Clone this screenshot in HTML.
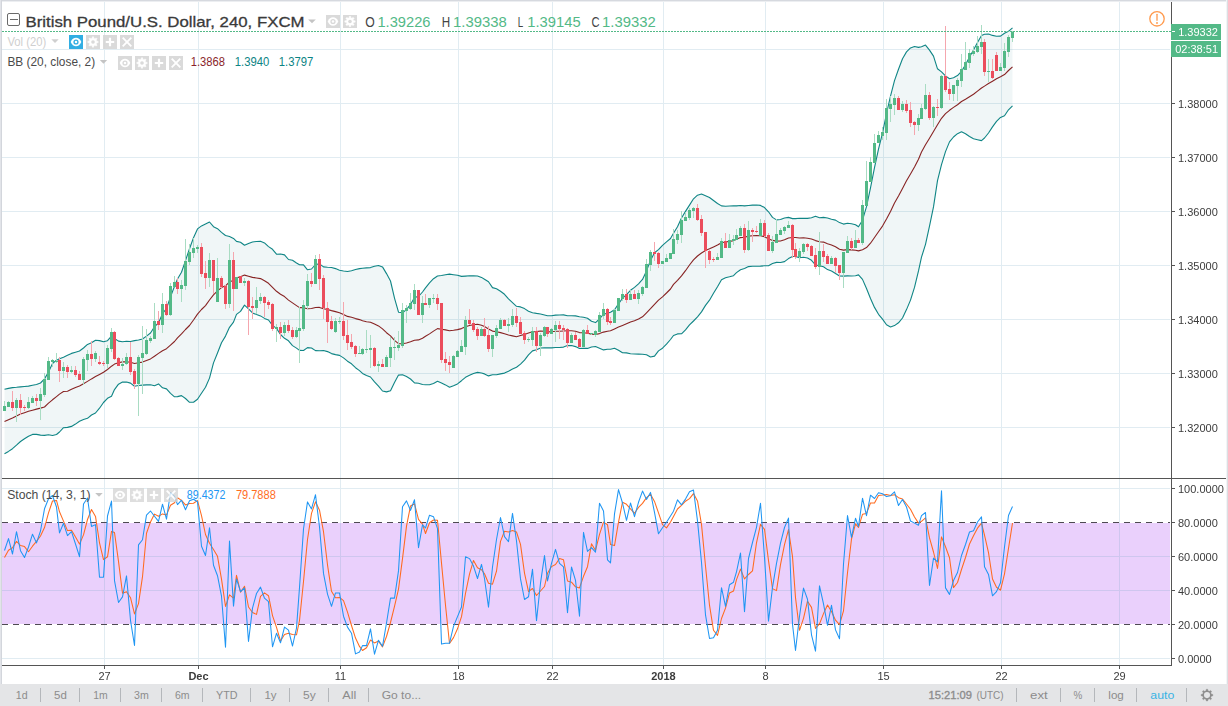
<!DOCTYPE html>
<html><head><meta charset="utf-8"><title>GBPUSD</title>
<style>html,body{margin:0;padding:0;background:#fff;overflow:hidden}body{width:1228px;height:706px;position:relative;font-family:"Liberation Sans",sans-serif}</style>
</head><body>
<svg width="1228" height="706" viewBox="0 0 1228 706" style="position:absolute;left:0;top:0">
<rect x="0" y="0" width="1228" height="706" fill="#fff"/>
<g fill="#e1ecf2" shape-rendering="crispEdges"><rect x="2" y="49" width="1168" height="1"/><rect x="2" y="103" width="1168" height="1"/><rect x="2" y="157" width="1168" height="1"/><rect x="2" y="211" width="1168" height="1"/><rect x="2" y="265" width="1168" height="1"/><rect x="2" y="319" width="1168" height="1"/><rect x="2" y="373" width="1168" height="1"/><rect x="2" y="427" width="1168" height="1"/><rect x="2" y="488" width="1168" height="1"/><rect x="2" y="556" width="1168" height="1"/><rect x="2" y="590" width="1168" height="1"/><rect x="2" y="658" width="1168" height="1"/><rect x="104" y="2" width="1" height="476"/><rect x="104" y="479" width="1" height="186"/><rect x="198" y="2" width="1" height="476"/><rect x="198" y="479" width="1" height="186"/><rect x="340" y="2" width="1" height="476"/><rect x="340" y="479" width="1" height="186"/><rect x="458" y="2" width="1" height="476"/><rect x="458" y="479" width="1" height="186"/><rect x="552" y="2" width="1" height="476"/><rect x="552" y="479" width="1" height="186"/><rect x="663" y="2" width="1" height="476"/><rect x="663" y="479" width="1" height="186"/><rect x="765" y="2" width="1" height="476"/><rect x="765" y="479" width="1" height="186"/><rect x="883" y="2" width="1" height="476"/><rect x="883" y="479" width="1" height="186"/><rect x="1001" y="2" width="1" height="476"/><rect x="1001" y="479" width="1" height="186"/><rect x="1119" y="2" width="1" height="476"/><rect x="1119" y="479" width="1" height="186"/></g>
<rect x="2" y="523" width="1168" height="101" fill="#ead0fc" shape-rendering="crispEdges"/>
<g fill="#cfc6ef" shape-rendering="crispEdges"><rect x="2" y="556" width="1168" height="1"/><rect x="2" y="590" width="1168" height="1"/><rect x="104" y="523" width="1" height="101"/><rect x="198" y="523" width="1" height="101"/><rect x="340" y="523" width="1" height="101"/><rect x="458" y="523" width="1" height="101"/><rect x="552" y="523" width="1" height="101"/><rect x="663" y="523" width="1" height="101"/><rect x="765" y="523" width="1" height="101"/><rect x="883" y="523" width="1" height="101"/><rect x="1001" y="523" width="1" height="101"/><rect x="1119" y="523" width="1" height="101"/></g>
<g stroke="#4e4a52" stroke-width="1" stroke-dasharray="6 5" shape-rendering="crispEdges"><line x1="2" y1="522.5" x2="1170" y2="522.5"/><line x1="2" y1="624.5" x2="1170" y2="624.5"/></g>
<path d="M4.5 389.2 L8.5 388.4 L12.5 387.6 L16.5 387.3 L20.5 386.9 L24.5 386.5 L28.5 386.1 L32.5 385.3 L36.5 384.5 L40.5 383.0 L44.5 378.9 L48.5 372.0 L52.5 363.5 L56.5 360.2 L59.5 358.8 L63.5 357.2 L67.5 355.3 L71.5 353.4 L75.5 352.2 L79.5 351.0 L83.5 348.0 L87.5 344.4 L91.5 342.8 L95.5 340.2 L99.5 340.6 L103.5 341.8 L107.5 340.7 L111.5 336.2 L114.5 338.5 L118.5 341.1 L122.5 341.7 L126.5 341.3 L130.5 341.5 L134.5 340.6 L138.5 340.0 L142.5 339.0 L146.5 336.1 L150.5 333.0 L154.5 326.7 L158.5 323.0 L162.5 313.6 L166.5 308.5 L170.5 296.9 L174.5 286.3 L177.5 279.0 L181.5 272.2 L185.5 260.6 L189.5 248.7 L193.5 237.8 L197.5 228.9 L201.5 225.9 L205.5 223.9 L209.5 222.0 L213.5 226.7 L217.5 228.7 L221.5 232.4 L225.5 235.5 L229.5 236.5 L233.5 238.4 L236.5 241.4 L240.5 242.2 L244.5 245.2 L248.5 243.4 L252.5 242.0 L256.5 241.5 L260.5 241.3 L264.5 242.9 L268.5 246.6 L272.5 249.3 L276.5 254.2 L280.5 254.0 L284.5 254.9 L288.5 259.5 L292.5 260.3 L296.5 263.0 L299.5 264.8 L303.5 264.9 L307.5 269.8 L311.5 269.0 L315.5 264.5 L319.5 263.9 L323.5 266.9 L327.5 267.3 L331.5 267.5 L335.5 268.6 L339.5 270.2 L343.5 271.0 L347.5 271.5 L351.5 270.7 L355.5 269.5 L359.5 268.6 L362.5 268.3 L366.5 267.9 L370.5 267.6 L374.5 266.3 L378.5 265.5 L382.5 266.9 L386.5 273.6 L390.5 281.0 L394.5 298.1 L398.5 312.2 L402.5 312.7 L406.5 309.6 L410.5 304.4 L414.5 297.4 L418.5 296.5 L422.5 292.0 L425.5 287.9 L429.5 282.9 L433.5 278.7 L437.5 276.0 L441.5 275.5 L445.5 274.8 L449.5 274.1 L453.5 274.7 L457.5 275.3 L461.5 276.4 L465.5 276.1 L469.5 275.8 L473.5 275.9 L477.5 276.0 L481.5 277.4 L484.5 279.2 L488.5 281.8 L492.5 287.6 L496.5 288.8 L500.5 291.3 L504.5 294.3 L508.5 298.8 L512.5 302.6 L516.5 306.3 L520.5 306.9 L524.5 308.6 L528.5 311.2 L532.5 312.7 L536.5 313.4 L540.5 314.0 L544.5 315.0 L547.5 315.8 L551.5 315.8 L555.5 315.1 L559.5 315.0 L563.5 314.9 L567.5 315.8 L571.5 315.8 L575.5 315.9 L579.5 316.7 L583.5 317.2 L587.5 318.2 L591.5 321.3 L595.5 322.6 L599.5 319.0 L603.5 314.2 L607.5 313.1 L610.5 312.3 L614.5 309.7 L618.5 303.9 L622.5 298.2 L626.5 294.6 L630.5 290.3 L634.5 287.4 L638.5 283.8 L642.5 279.4 L646.5 270.9 L650.5 260.4 L654.5 252.7 L658.5 249.6 L662.5 245.3 L666.5 241.8 L670.5 238.5 L673.5 233.3 L677.5 226.8 L681.5 218.0 L685.5 211.4 L689.5 205.1 L693.5 198.8 L697.5 195.2 L701.5 194.0 L705.5 195.7 L709.5 197.5 L713.5 200.5 L717.5 203.5 L721.5 205.9 L725.5 206.3 L729.5 206.0 L733.5 205.7 L736.5 205.9 L740.5 205.5 L744.5 205.9 L748.5 205.5 L752.5 205.1 L756.5 205.0 L760.5 205.4 L764.5 207.6 L768.5 211.8 L772.5 217.4 L776.5 219.9 L780.5 219.5 L784.5 218.0 L788.5 217.4 L792.5 218.6 L795.5 218.6 L799.5 218.3 L803.5 218.4 L807.5 218.4 L811.5 217.8 L815.5 216.3 L819.5 217.7 L823.5 217.4 L827.5 218.0 L831.5 219.2 L835.5 220.1 L839.5 222.6 L843.5 224.1 L847.5 223.3 L851.5 223.8 L855.5 224.7 L858.5 226.8 L862.5 220.2 L866.5 206.7 L870.5 187.9 L874.5 167.6 L878.5 149.1 L882.5 133.1 L886.5 113.5 L890.5 96.2 L894.5 80.6 L898.5 69.3 L902.5 58.8 L906.5 51.9 L910.5 47.9 L914.5 46.5 L918.5 47.4 L921.5 46.8 L925.5 45.1 L929.5 50.1 L933.5 56.1 L937.5 68.8 L941.5 71.9 L945.5 75.9 L949.5 78.7 L953.5 77.8 L957.5 75.6 L961.5 71.4 L965.5 64.7 L969.5 56.9 L973.5 49.9 L977.5 42.6 L981.5 35.5 L984.5 34.2 L988.5 34.0 L992.5 35.4 L996.5 36.2 L1000.5 36.1 L1004.5 33.3 L1008.5 31.3 L1012.5 27.8 L1012.5 105.8 L1008.5 109.8 L1004.5 115.8 L1000.5 117.4 L996.5 121.4 L992.5 126.9 L988.5 133.0 L984.5 138.0 L981.5 140.6 L977.5 139.7 L973.5 138.8 L969.5 136.5 L965.5 133.7 L961.5 131.7 L957.5 133.7 L953.5 137.0 L949.5 141.9 L945.5 151.6 L941.5 164.6 L937.5 180.7 L933.5 206.9 L929.5 226.2 L925.5 244.3 L921.5 257.2 L918.5 270.9 L914.5 287.4 L910.5 300.1 L906.5 309.6 L902.5 318.0 L898.5 322.8 L894.5 325.6 L890.5 326.9 L886.5 324.8 L882.5 319.1 L878.5 314.3 L874.5 307.4 L870.5 298.5 L866.5 288.5 L862.5 279.4 L858.5 274.9 L855.5 275.7 L851.5 276.0 L847.5 275.9 L843.5 276.1 L839.5 276.0 L835.5 273.5 L831.5 271.0 L827.5 269.6 L823.5 266.8 L819.5 265.8 L815.5 265.0 L811.5 260.3 L807.5 258.0 L803.5 257.3 L799.5 257.8 L795.5 256.5 L792.5 256.5 L788.5 258.6 L784.5 261.6 L780.5 262.5 L776.5 262.4 L772.5 263.5 L768.5 265.7 L764.5 265.8 L760.5 266.1 L756.5 266.2 L752.5 266.3 L748.5 266.6 L744.5 268.5 L740.5 269.7 L736.5 272.6 L733.5 275.7 L729.5 276.8 L725.5 277.7 L721.5 279.7 L717.5 286.7 L713.5 293.3 L709.5 300.2 L705.5 305.4 L701.5 311.9 L697.5 316.8 L693.5 321.0 L689.5 324.9 L685.5 329.9 L681.5 333.8 L677.5 333.9 L673.5 335.5 L670.5 339.5 L666.5 344.2 L662.5 348.2 L658.5 350.9 L654.5 356.1 L650.5 357.0 L646.5 354.7 L642.5 354.2 L638.5 354.1 L634.5 354.0 L630.5 353.8 L626.5 352.9 L622.5 352.8 L618.5 350.3 L614.5 348.2 L610.5 349.2 L607.5 349.3 L603.5 349.9 L599.5 348.2 L595.5 346.5 L591.5 347.0 L587.5 348.4 L583.5 348.4 L579.5 348.5 L575.5 346.6 L571.5 345.5 L567.5 345.6 L563.5 347.1 L559.5 347.5 L555.5 347.5 L551.5 347.9 L547.5 347.9 L544.5 347.7 L540.5 348.0 L536.5 349.7 L532.5 350.9 L528.5 354.9 L524.5 360.2 L520.5 364.1 L516.5 367.3 L512.5 369.1 L508.5 371.2 L504.5 373.1 L500.5 373.9 L496.5 374.7 L492.5 374.7 L488.5 375.9 L484.5 373.9 L481.5 373.0 L477.5 372.4 L473.5 373.5 L469.5 375.3 L465.5 377.3 L461.5 380.7 L457.5 383.9 L453.5 385.8 L449.5 387.3 L445.5 384.9 L441.5 382.9 L437.5 381.3 L433.5 383.4 L429.5 384.8 L425.5 384.8 L422.5 384.5 L418.5 383.3 L414.5 382.9 L410.5 379.0 L406.5 376.5 L402.5 374.7 L398.5 375.1 L394.5 382.5 L390.5 390.8 L386.5 391.9 L382.5 391.0 L378.5 386.2 L374.5 381.9 L370.5 377.0 L366.5 375.5 L362.5 373.4 L359.5 370.6 L355.5 367.7 L351.5 363.8 L347.5 361.2 L343.5 357.9 L339.5 355.4 L335.5 354.6 L331.5 353.6 L327.5 351.6 L323.5 350.5 L319.5 350.8 L315.5 350.6 L311.5 348.0 L307.5 347.6 L303.5 350.5 L299.5 350.4 L296.5 348.1 L292.5 345.6 L288.5 340.8 L284.5 338.3 L280.5 334.5 L276.5 328.4 L272.5 325.4 L268.5 320.0 L264.5 318.4 L260.5 315.9 L256.5 314.5 L252.5 312.9 L248.5 308.9 L244.5 305.1 L240.5 311.4 L236.5 314.4 L233.5 322.1 L229.5 327.3 L225.5 336.1 L221.5 342.8 L217.5 353.0 L213.5 362.9 L209.5 378.1 L205.5 387.3 L201.5 393.2 L197.5 399.2 L193.5 402.2 L189.5 402.3 L185.5 398.5 L181.5 395.6 L177.5 396.6 L174.5 396.8 L170.5 393.3 L166.5 388.9 L162.5 387.8 L158.5 383.9 L154.5 385.7 L150.5 384.8 L146.5 384.9 L142.5 385.1 L138.5 385.5 L134.5 386.3 L130.5 383.1 L126.5 382.0 L122.5 382.1 L118.5 384.2 L114.5 389.6 L111.5 396.2 L107.5 398.3 L103.5 402.5 L99.5 408.2 L95.5 413.0 L91.5 415.0 L87.5 418.3 L83.5 419.5 L79.5 421.3 L75.5 424.1 L71.5 426.4 L67.5 427.4 L63.5 427.7 L59.5 432.0 L56.5 434.5 L52.5 435.5 L48.5 434.8 L44.5 435.4 L40.5 435.1 L36.5 434.4 L32.5 434.4 L28.5 436.2 L24.5 438.8 L20.5 441.5 L16.5 445.2 L12.5 448.7 L8.5 451.4 L4.5 453.7Z" fill="#05697a" fill-opacity="0.06"/>
<path d="M4.5 421.4 L8.5 419.7 L12.5 418.0 L16.5 416.1 L20.5 414.1 L24.5 412.7 L28.5 411.3 L32.5 410.2 L36.5 409.1 L40.5 408.1 L44.5 407.0 L48.5 403.2 L52.5 399.8 L56.5 396.6 L59.5 394.1 L63.5 391.5 L67.5 391.2 L71.5 389.2 L75.5 387.5 L79.5 386.1 L83.5 383.8 L87.5 381.4 L91.5 378.9 L95.5 376.6 L99.5 374.4 L103.5 372.2 L107.5 369.5 L111.5 366.2 L114.5 364.1 L118.5 362.7 L122.5 361.9 L126.5 361.7 L130.5 362.3 L134.5 363.5 L138.5 362.8 L142.5 362.1 L146.5 360.5 L150.5 358.9 L154.5 356.2 L158.5 353.4 L162.5 350.7 L166.5 348.7 L170.5 345.1 L174.5 341.5 L177.5 337.8 L181.5 333.9 L185.5 329.5 L189.5 325.5 L193.5 320.0 L197.5 314.1 L201.5 309.5 L205.5 305.6 L209.5 300.0 L213.5 294.8 L217.5 290.9 L221.5 287.6 L225.5 285.8 L229.5 281.9 L233.5 280.3 L236.5 277.9 L240.5 276.8 L244.5 275.1 L248.5 276.2 L252.5 277.4 L256.5 278.0 L260.5 278.6 L264.5 280.7 L268.5 283.3 L272.5 287.3 L276.5 291.3 L280.5 294.3 L284.5 296.6 L288.5 300.1 L292.5 302.9 L296.5 305.6 L299.5 307.6 L303.5 307.7 L307.5 308.7 L311.5 308.5 L315.5 307.5 L319.5 307.4 L323.5 308.7 L327.5 309.5 L331.5 310.6 L335.5 311.6 L339.5 312.8 L343.5 314.5 L347.5 316.4 L351.5 317.3 L355.5 318.6 L359.5 319.6 L362.5 320.8 L366.5 321.7 L370.5 322.3 L374.5 324.1 L378.5 325.9 L382.5 328.9 L386.5 332.7 L390.5 335.9 L394.5 340.3 L398.5 343.6 L402.5 343.7 L406.5 343.0 L410.5 341.7 L414.5 340.2 L418.5 339.9 L422.5 338.2 L425.5 336.3 L429.5 333.9 L433.5 331.1 L437.5 328.6 L441.5 329.2 L445.5 329.9 L449.5 330.7 L453.5 330.2 L457.5 329.6 L461.5 328.6 L465.5 326.7 L469.5 325.5 L473.5 324.7 L477.5 324.2 L481.5 325.2 L484.5 326.6 L488.5 328.9 L492.5 331.1 L496.5 331.8 L500.5 332.6 L504.5 333.7 L508.5 335.0 L512.5 335.9 L516.5 336.8 L520.5 335.5 L524.5 334.4 L528.5 333.1 L532.5 331.8 L536.5 331.6 L540.5 331.0 L544.5 331.4 L547.5 331.9 L551.5 331.8 L555.5 331.3 L559.5 331.3 L563.5 331.0 L567.5 330.7 L571.5 330.7 L575.5 331.2 L579.5 332.6 L583.5 332.8 L587.5 333.3 L591.5 334.1 L595.5 334.5 L599.5 333.6 L603.5 332.1 L607.5 331.2 L610.5 330.8 L614.5 329.0 L618.5 327.1 L622.5 325.5 L626.5 323.8 L630.5 322.0 L634.5 320.7 L638.5 318.9 L642.5 316.8 L646.5 312.8 L650.5 308.7 L654.5 304.4 L658.5 300.2 L662.5 296.8 L666.5 293.0 L670.5 289.0 L673.5 284.4 L677.5 280.3 L681.5 275.9 L685.5 270.7 L689.5 265.0 L693.5 259.9 L697.5 256.0 L701.5 253.0 L705.5 250.5 L709.5 248.8 L713.5 246.9 L717.5 245.1 L721.5 242.8 L725.5 242.0 L729.5 241.4 L733.5 240.7 L736.5 239.2 L740.5 237.6 L744.5 237.2 L748.5 236.1 L752.5 235.7 L756.5 235.6 L760.5 235.7 L764.5 236.7 L768.5 238.8 L772.5 240.4 L776.5 241.1 L780.5 241.0 L784.5 239.8 L788.5 238.0 L792.5 237.5 L795.5 237.5 L799.5 238.0 L803.5 237.8 L807.5 238.2 L811.5 239.0 L815.5 240.6 L819.5 241.7 L823.5 242.1 L827.5 243.8 L831.5 245.1 L835.5 246.8 L839.5 249.3 L843.5 250.1 L847.5 249.6 L851.5 249.9 L855.5 250.2 L858.5 250.9 L862.5 249.8 L866.5 247.6 L870.5 243.2 L874.5 237.5 L878.5 231.7 L882.5 226.1 L886.5 219.1 L890.5 211.6 L894.5 203.1 L898.5 196.1 L902.5 188.4 L906.5 180.8 L910.5 174.0 L914.5 166.9 L918.5 159.2 L921.5 152.0 L925.5 144.7 L929.5 138.2 L933.5 131.5 L937.5 124.7 L941.5 118.3 L945.5 113.7 L949.5 110.3 L953.5 107.4 L957.5 104.7 L961.5 101.5 L965.5 99.2 L969.5 96.7 L973.5 94.3 L977.5 91.1 L981.5 88.0 L984.5 86.1 L988.5 83.5 L992.5 81.2 L996.5 78.8 L1000.5 76.8 L1004.5 74.6 L1008.5 70.5 L1012.5 66.8" fill="none" stroke="#872323" stroke-width="1.1" stroke-linejoin="round"/>
<path d="M4.5 389.2 L8.5 388.4 L12.5 387.6 L16.5 387.3 L20.5 386.9 L24.5 386.5 L28.5 386.1 L32.5 385.3 L36.5 384.5 L40.5 383.0 L44.5 378.9 L48.5 372.0 L52.5 363.5 L56.5 360.2 L59.5 358.8 L63.5 357.2 L67.5 355.3 L71.5 353.4 L75.5 352.2 L79.5 351.0 L83.5 348.0 L87.5 344.4 L91.5 342.8 L95.5 340.2 L99.5 340.6 L103.5 341.8 L107.5 340.7 L111.5 336.2 L114.5 338.5 L118.5 341.1 L122.5 341.7 L126.5 341.3 L130.5 341.5 L134.5 340.6 L138.5 340.0 L142.5 339.0 L146.5 336.1 L150.5 333.0 L154.5 326.7 L158.5 323.0 L162.5 313.6 L166.5 308.5 L170.5 296.9 L174.5 286.3 L177.5 279.0 L181.5 272.2 L185.5 260.6 L189.5 248.7 L193.5 237.8 L197.5 228.9 L201.5 225.9 L205.5 223.9 L209.5 222.0 L213.5 226.7 L217.5 228.7 L221.5 232.4 L225.5 235.5 L229.5 236.5 L233.5 238.4 L236.5 241.4 L240.5 242.2 L244.5 245.2 L248.5 243.4 L252.5 242.0 L256.5 241.5 L260.5 241.3 L264.5 242.9 L268.5 246.6 L272.5 249.3 L276.5 254.2 L280.5 254.0 L284.5 254.9 L288.5 259.5 L292.5 260.3 L296.5 263.0 L299.5 264.8 L303.5 264.9 L307.5 269.8 L311.5 269.0 L315.5 264.5 L319.5 263.9 L323.5 266.9 L327.5 267.3 L331.5 267.5 L335.5 268.6 L339.5 270.2 L343.5 271.0 L347.5 271.5 L351.5 270.7 L355.5 269.5 L359.5 268.6 L362.5 268.3 L366.5 267.9 L370.5 267.6 L374.5 266.3 L378.5 265.5 L382.5 266.9 L386.5 273.6 L390.5 281.0 L394.5 298.1 L398.5 312.2 L402.5 312.7 L406.5 309.6 L410.5 304.4 L414.5 297.4 L418.5 296.5 L422.5 292.0 L425.5 287.9 L429.5 282.9 L433.5 278.7 L437.5 276.0 L441.5 275.5 L445.5 274.8 L449.5 274.1 L453.5 274.7 L457.5 275.3 L461.5 276.4 L465.5 276.1 L469.5 275.8 L473.5 275.9 L477.5 276.0 L481.5 277.4 L484.5 279.2 L488.5 281.8 L492.5 287.6 L496.5 288.8 L500.5 291.3 L504.5 294.3 L508.5 298.8 L512.5 302.6 L516.5 306.3 L520.5 306.9 L524.5 308.6 L528.5 311.2 L532.5 312.7 L536.5 313.4 L540.5 314.0 L544.5 315.0 L547.5 315.8 L551.5 315.8 L555.5 315.1 L559.5 315.0 L563.5 314.9 L567.5 315.8 L571.5 315.8 L575.5 315.9 L579.5 316.7 L583.5 317.2 L587.5 318.2 L591.5 321.3 L595.5 322.6 L599.5 319.0 L603.5 314.2 L607.5 313.1 L610.5 312.3 L614.5 309.7 L618.5 303.9 L622.5 298.2 L626.5 294.6 L630.5 290.3 L634.5 287.4 L638.5 283.8 L642.5 279.4 L646.5 270.9 L650.5 260.4 L654.5 252.7 L658.5 249.6 L662.5 245.3 L666.5 241.8 L670.5 238.5 L673.5 233.3 L677.5 226.8 L681.5 218.0 L685.5 211.4 L689.5 205.1 L693.5 198.8 L697.5 195.2 L701.5 194.0 L705.5 195.7 L709.5 197.5 L713.5 200.5 L717.5 203.5 L721.5 205.9 L725.5 206.3 L729.5 206.0 L733.5 205.7 L736.5 205.9 L740.5 205.5 L744.5 205.9 L748.5 205.5 L752.5 205.1 L756.5 205.0 L760.5 205.4 L764.5 207.6 L768.5 211.8 L772.5 217.4 L776.5 219.9 L780.5 219.5 L784.5 218.0 L788.5 217.4 L792.5 218.6 L795.5 218.6 L799.5 218.3 L803.5 218.4 L807.5 218.4 L811.5 217.8 L815.5 216.3 L819.5 217.7 L823.5 217.4 L827.5 218.0 L831.5 219.2 L835.5 220.1 L839.5 222.6 L843.5 224.1 L847.5 223.3 L851.5 223.8 L855.5 224.7 L858.5 226.8 L862.5 220.2 L866.5 206.7 L870.5 187.9 L874.5 167.6 L878.5 149.1 L882.5 133.1 L886.5 113.5 L890.5 96.2 L894.5 80.6 L898.5 69.3 L902.5 58.8 L906.5 51.9 L910.5 47.9 L914.5 46.5 L918.5 47.4 L921.5 46.8 L925.5 45.1 L929.5 50.1 L933.5 56.1 L937.5 68.8 L941.5 71.9 L945.5 75.9 L949.5 78.7 L953.5 77.8 L957.5 75.6 L961.5 71.4 L965.5 64.7 L969.5 56.9 L973.5 49.9 L977.5 42.6 L981.5 35.5 L984.5 34.2 L988.5 34.0 L992.5 35.4 L996.5 36.2 L1000.5 36.1 L1004.5 33.3 L1008.5 31.3 L1012.5 27.8" fill="none" stroke="#0f8585" stroke-width="1.1" stroke-linejoin="round"/>
<path d="M4.5 453.7 L8.5 451.4 L12.5 448.7 L16.5 445.2 L20.5 441.5 L24.5 438.8 L28.5 436.2 L32.5 434.4 L36.5 434.4 L40.5 435.1 L44.5 435.4 L48.5 434.8 L52.5 435.5 L56.5 434.5 L59.5 432.0 L63.5 427.7 L67.5 427.4 L71.5 426.4 L75.5 424.1 L79.5 421.3 L83.5 419.5 L87.5 418.3 L91.5 415.0 L95.5 413.0 L99.5 408.2 L103.5 402.5 L107.5 398.3 L111.5 396.2 L114.5 389.6 L118.5 384.2 L122.5 382.1 L126.5 382.0 L130.5 383.1 L134.5 386.3 L138.5 385.5 L142.5 385.1 L146.5 384.9 L150.5 384.8 L154.5 385.7 L158.5 383.9 L162.5 387.8 L166.5 388.9 L170.5 393.3 L174.5 396.8 L177.5 396.6 L181.5 395.6 L185.5 398.5 L189.5 402.3 L193.5 402.2 L197.5 399.2 L201.5 393.2 L205.5 387.3 L209.5 378.1 L213.5 362.9 L217.5 353.0 L221.5 342.8 L225.5 336.1 L229.5 327.3 L233.5 322.1 L236.5 314.4 L240.5 311.4 L244.5 305.1 L248.5 308.9 L252.5 312.9 L256.5 314.5 L260.5 315.9 L264.5 318.4 L268.5 320.0 L272.5 325.4 L276.5 328.4 L280.5 334.5 L284.5 338.3 L288.5 340.8 L292.5 345.6 L296.5 348.1 L299.5 350.4 L303.5 350.5 L307.5 347.6 L311.5 348.0 L315.5 350.6 L319.5 350.8 L323.5 350.5 L327.5 351.6 L331.5 353.6 L335.5 354.6 L339.5 355.4 L343.5 357.9 L347.5 361.2 L351.5 363.8 L355.5 367.7 L359.5 370.6 L362.5 373.4 L366.5 375.5 L370.5 377.0 L374.5 381.9 L378.5 386.2 L382.5 391.0 L386.5 391.9 L390.5 390.8 L394.5 382.5 L398.5 375.1 L402.5 374.7 L406.5 376.5 L410.5 379.0 L414.5 382.9 L418.5 383.3 L422.5 384.5 L425.5 384.8 L429.5 384.8 L433.5 383.4 L437.5 381.3 L441.5 382.9 L445.5 384.9 L449.5 387.3 L453.5 385.8 L457.5 383.9 L461.5 380.7 L465.5 377.3 L469.5 375.3 L473.5 373.5 L477.5 372.4 L481.5 373.0 L484.5 373.9 L488.5 375.9 L492.5 374.7 L496.5 374.7 L500.5 373.9 L504.5 373.1 L508.5 371.2 L512.5 369.1 L516.5 367.3 L520.5 364.1 L524.5 360.2 L528.5 354.9 L532.5 350.9 L536.5 349.7 L540.5 348.0 L544.5 347.7 L547.5 347.9 L551.5 347.9 L555.5 347.5 L559.5 347.5 L563.5 347.1 L567.5 345.6 L571.5 345.5 L575.5 346.6 L579.5 348.5 L583.5 348.4 L587.5 348.4 L591.5 347.0 L595.5 346.5 L599.5 348.2 L603.5 349.9 L607.5 349.3 L610.5 349.2 L614.5 348.2 L618.5 350.3 L622.5 352.8 L626.5 352.9 L630.5 353.8 L634.5 354.0 L638.5 354.1 L642.5 354.2 L646.5 354.7 L650.5 357.0 L654.5 356.1 L658.5 350.9 L662.5 348.2 L666.5 344.2 L670.5 339.5 L673.5 335.5 L677.5 333.9 L681.5 333.8 L685.5 329.9 L689.5 324.9 L693.5 321.0 L697.5 316.8 L701.5 311.9 L705.5 305.4 L709.5 300.2 L713.5 293.3 L717.5 286.7 L721.5 279.7 L725.5 277.7 L729.5 276.8 L733.5 275.7 L736.5 272.6 L740.5 269.7 L744.5 268.5 L748.5 266.6 L752.5 266.3 L756.5 266.2 L760.5 266.1 L764.5 265.8 L768.5 265.7 L772.5 263.5 L776.5 262.4 L780.5 262.5 L784.5 261.6 L788.5 258.6 L792.5 256.5 L795.5 256.5 L799.5 257.8 L803.5 257.3 L807.5 258.0 L811.5 260.3 L815.5 265.0 L819.5 265.8 L823.5 266.8 L827.5 269.6 L831.5 271.0 L835.5 273.5 L839.5 276.0 L843.5 276.1 L847.5 275.9 L851.5 276.0 L855.5 275.7 L858.5 274.9 L862.5 279.4 L866.5 288.5 L870.5 298.5 L874.5 307.4 L878.5 314.3 L882.5 319.1 L886.5 324.8 L890.5 326.9 L894.5 325.6 L898.5 322.8 L902.5 318.0 L906.5 309.6 L910.5 300.1 L914.5 287.4 L918.5 270.9 L921.5 257.2 L925.5 244.3 L929.5 226.2 L933.5 206.9 L937.5 180.7 L941.5 164.6 L945.5 151.6 L949.5 141.9 L953.5 137.0 L957.5 133.7 L961.5 131.7 L965.5 133.7 L969.5 136.5 L973.5 138.8 L977.5 139.7 L981.5 140.6 L984.5 138.0 L988.5 133.0 L992.5 126.9 L996.5 121.4 L1000.5 117.4 L1004.5 115.8 L1008.5 109.8 L1012.5 105.8" fill="none" stroke="#0f8585" stroke-width="1.1" stroke-linejoin="round"/>
<g shape-rendering="crispEdges"><g fill="#a9dcc3"><rect x="4" y="401" width="1" height="10"/><rect x="8" y="401" width="1" height="6"/><rect x="16" y="398" width="1" height="24"/><rect x="28" y="397" width="1" height="12"/><rect x="32" y="396" width="1" height="7"/><rect x="40" y="388" width="1" height="32"/><rect x="44" y="373" width="1" height="24"/><rect x="48" y="357" width="1" height="23"/><rect x="52" y="359" width="1" height="8"/><rect x="56" y="353" width="1" height="10"/><rect x="63" y="362" width="1" height="16"/><rect x="71" y="366" width="1" height="7"/><rect x="83" y="357" width="1" height="28"/><rect x="87" y="350" width="1" height="21"/><rect x="95" y="351" width="1" height="11"/><rect x="107" y="345" width="1" height="23"/><rect x="111" y="328" width="1" height="24"/><rect x="122" y="358" width="1" height="12"/><rect x="126" y="353" width="1" height="12"/><rect x="138" y="355" width="1" height="61"/><rect x="142" y="326" width="1" height="68"/><rect x="146" y="329" width="1" height="26"/><rect x="150" y="336" width="1" height="7"/><rect x="154" y="303" width="1" height="36"/><rect x="162" y="293" width="1" height="40"/><rect x="170" y="283" width="1" height="33"/><rect x="174" y="276" width="1" height="11"/><rect x="181" y="280" width="1" height="22"/><rect x="185" y="239" width="1" height="51"/><rect x="189" y="244" width="1" height="21"/><rect x="193" y="238" width="1" height="20"/><rect x="197" y="245" width="1" height="8"/><rect x="209" y="253" width="1" height="34"/><rect x="217" y="258" width="1" height="44"/><rect x="229" y="244" width="1" height="64"/><rect x="236" y="277" width="1" height="12"/><rect x="244" y="278" width="1" height="8"/><rect x="256" y="287" width="1" height="27"/><rect x="260" y="293" width="1" height="11"/><rect x="276" y="324" width="1" height="18"/><rect x="284" y="322" width="1" height="14"/><rect x="296" y="327" width="1" height="11"/><rect x="299" y="307" width="1" height="56"/><rect x="303" y="300" width="1" height="31"/><rect x="307" y="274" width="1" height="35"/><rect x="315" y="255" width="1" height="29"/><rect x="335" y="318" width="1" height="15"/><rect x="339" y="317" width="1" height="7"/><rect x="359" y="346" width="1" height="8"/><rect x="362" y="348" width="1" height="7"/><rect x="366" y="330" width="1" height="23"/><rect x="370" y="335" width="1" height="33"/><rect x="378" y="361" width="1" height="11"/><rect x="386" y="355" width="1" height="12"/><rect x="390" y="337" width="1" height="30"/><rect x="394" y="337" width="1" height="23"/><rect x="398" y="331" width="1" height="20"/><rect x="402" y="303" width="1" height="45"/><rect x="406" y="305" width="1" height="18"/><rect x="410" y="293" width="1" height="17"/><rect x="414" y="284" width="1" height="26"/><rect x="422" y="296" width="1" height="27"/><rect x="429" y="298" width="1" height="10"/><rect x="433" y="294" width="1" height="9"/><rect x="453" y="355" width="1" height="13"/><rect x="457" y="350" width="1" height="7"/><rect x="461" y="340" width="1" height="12"/><rect x="465" y="316" width="1" height="39"/><rect x="481" y="327" width="1" height="9"/><rect x="492" y="335" width="1" height="22"/><rect x="496" y="325" width="1" height="13"/><rect x="500" y="318" width="1" height="11"/><rect x="508" y="318" width="1" height="14"/><rect x="512" y="309" width="1" height="18"/><rect x="528" y="337" width="1" height="5"/><rect x="532" y="327" width="1" height="19"/><rect x="540" y="333" width="1" height="23"/><rect x="544" y="326" width="1" height="11"/><rect x="551" y="328" width="1" height="6"/><rect x="555" y="321" width="1" height="21"/><rect x="571" y="333" width="1" height="10"/><rect x="583" y="329" width="1" height="18"/><rect x="591" y="333" width="1" height="2"/><rect x="595" y="330" width="1" height="7"/><rect x="599" y="312" width="1" height="20"/><rect x="603" y="303" width="1" height="16"/><rect x="614" y="309" width="1" height="14"/><rect x="618" y="298" width="1" height="13"/><rect x="622" y="289" width="1" height="12"/><rect x="630" y="290" width="1" height="10"/><rect x="638" y="290" width="1" height="14"/><rect x="642" y="286" width="1" height="10"/><rect x="646" y="259" width="1" height="29"/><rect x="650" y="250" width="1" height="21"/><rect x="662" y="261" width="1" height="3"/><rect x="666" y="254" width="1" height="8"/><rect x="670" y="253" width="1" height="6"/><rect x="673" y="229" width="1" height="25"/><rect x="677" y="230" width="1" height="14"/><rect x="681" y="211" width="1" height="32"/><rect x="685" y="212" width="1" height="9"/><rect x="689" y="208" width="1" height="12"/><rect x="693" y="207" width="1" height="11"/><rect x="717" y="253" width="1" height="7"/><rect x="721" y="238" width="1" height="20"/><rect x="729" y="234" width="1" height="14"/><rect x="733" y="235" width="1" height="10"/><rect x="736" y="229" width="1" height="11"/><rect x="740" y="226" width="1" height="10"/><rect x="748" y="221" width="1" height="30"/><rect x="760" y="219" width="1" height="17"/><rect x="772" y="236" width="1" height="17"/><rect x="776" y="219" width="1" height="24"/><rect x="780" y="228" width="1" height="7"/><rect x="784" y="226" width="1" height="8"/><rect x="788" y="221" width="1" height="7"/><rect x="799" y="248" width="1" height="14"/><rect x="803" y="243" width="1" height="11"/><rect x="819" y="232" width="1" height="43"/><rect x="831" y="256" width="1" height="8"/><rect x="843" y="252" width="1" height="36"/><rect x="847" y="236" width="1" height="17"/><rect x="855" y="230" width="1" height="18"/><rect x="862" y="200" width="1" height="45"/><rect x="866" y="161" width="1" height="45"/><rect x="870" y="157" width="1" height="25"/><rect x="874" y="134" width="1" height="29"/><rect x="878" y="131" width="1" height="12"/><rect x="882" y="127" width="1" height="13"/><rect x="886" y="99" width="1" height="41"/><rect x="890" y="96" width="1" height="26"/><rect x="894" y="94" width="1" height="21"/><rect x="902" y="101" width="1" height="11"/><rect x="918" y="114" width="1" height="17"/><rect x="921" y="104" width="1" height="15"/><rect x="925" y="84" width="1" height="26"/><rect x="933" y="106" width="1" height="21"/><rect x="941" y="75" width="1" height="34"/><rect x="953" y="85" width="1" height="16"/><rect x="957" y="78" width="1" height="23"/><rect x="961" y="54" width="1" height="33"/><rect x="965" y="42" width="1" height="28"/><rect x="969" y="49" width="1" height="19"/><rect x="973" y="46" width="1" height="10"/><rect x="977" y="36" width="1" height="17"/><rect x="981" y="25" width="1" height="29"/><rect x="988" y="59" width="1" height="23"/><rect x="1000" y="63" width="1" height="8"/><rect x="1004" y="43" width="1" height="28"/><rect x="1008" y="35" width="1" height="22"/><rect x="1012" y="31" width="1" height="11"/></g><g fill="#f5a6ae"><rect x="12" y="391" width="1" height="20"/><rect x="20" y="394" width="1" height="21"/><rect x="24" y="405" width="1" height="6"/><rect x="36" y="394" width="1" height="12"/><rect x="59" y="357" width="1" height="25"/><rect x="67" y="365" width="1" height="13"/><rect x="75" y="366" width="1" height="11"/><rect x="79" y="371" width="1" height="9"/><rect x="91" y="341" width="1" height="25"/><rect x="99" y="356" width="1" height="9"/><rect x="103" y="361" width="1" height="5"/><rect x="114" y="331" width="1" height="29"/><rect x="118" y="357" width="1" height="9"/><rect x="130" y="342" width="1" height="33"/><rect x="134" y="369" width="1" height="20"/><rect x="158" y="311" width="1" height="19"/><rect x="166" y="301" width="1" height="15"/><rect x="177" y="278" width="1" height="16"/><rect x="201" y="243" width="1" height="34"/><rect x="205" y="261" width="1" height="28"/><rect x="213" y="260" width="1" height="34"/><rect x="221" y="276" width="1" height="12"/><rect x="225" y="285" width="1" height="24"/><rect x="233" y="252" width="1" height="59"/><rect x="240" y="276" width="1" height="7"/><rect x="248" y="280" width="1" height="55"/><rect x="252" y="297" width="1" height="22"/><rect x="264" y="296" width="1" height="21"/><rect x="268" y="300" width="1" height="9"/><rect x="272" y="303" width="1" height="28"/><rect x="280" y="322" width="1" height="17"/><rect x="288" y="320" width="1" height="13"/><rect x="292" y="327" width="1" height="12"/><rect x="311" y="273" width="1" height="14"/><rect x="319" y="254" width="1" height="36"/><rect x="323" y="275" width="1" height="44"/><rect x="327" y="302" width="1" height="41"/><rect x="331" y="316" width="1" height="14"/><rect x="343" y="302" width="1" height="38"/><rect x="347" y="320" width="1" height="30"/><rect x="351" y="334" width="1" height="15"/><rect x="355" y="345" width="1" height="12"/><rect x="374" y="347" width="1" height="20"/><rect x="382" y="359" width="1" height="8"/><rect x="418" y="290" width="1" height="25"/><rect x="425" y="294" width="1" height="11"/><rect x="437" y="294" width="1" height="16"/><rect x="441" y="303" width="1" height="60"/><rect x="445" y="352" width="1" height="19"/><rect x="449" y="356" width="1" height="17"/><rect x="469" y="309" width="1" height="16"/><rect x="473" y="320" width="1" height="12"/><rect x="477" y="327" width="1" height="13"/><rect x="484" y="318" width="1" height="19"/><rect x="488" y="326" width="1" height="26"/><rect x="504" y="319" width="1" height="7"/><rect x="516" y="308" width="1" height="19"/><rect x="520" y="317" width="1" height="17"/><rect x="524" y="331" width="1" height="13"/><rect x="536" y="327" width="1" height="25"/><rect x="547" y="327" width="1" height="10"/><rect x="559" y="321" width="1" height="18"/><rect x="563" y="325" width="1" height="15"/><rect x="567" y="328" width="1" height="20"/><rect x="575" y="332" width="1" height="8"/><rect x="579" y="338" width="1" height="9"/><rect x="587" y="325" width="1" height="9"/><rect x="607" y="308" width="1" height="17"/><rect x="610" y="317" width="1" height="8"/><rect x="626" y="289" width="1" height="14"/><rect x="634" y="290" width="1" height="9"/><rect x="654" y="242" width="1" height="19"/><rect x="658" y="252" width="1" height="16"/><rect x="697" y="204" width="1" height="17"/><rect x="701" y="215" width="1" height="21"/><rect x="705" y="232" width="1" height="36"/><rect x="709" y="250" width="1" height="14"/><rect x="713" y="257" width="1" height="5"/><rect x="725" y="233" width="1" height="15"/><rect x="744" y="224" width="1" height="29"/><rect x="752" y="228" width="1" height="14"/><rect x="756" y="226" width="1" height="7"/><rect x="764" y="220" width="1" height="17"/><rect x="768" y="233" width="1" height="18"/><rect x="792" y="224" width="1" height="34"/><rect x="795" y="243" width="1" height="16"/><rect x="807" y="243" width="1" height="8"/><rect x="811" y="245" width="1" height="11"/><rect x="815" y="248" width="1" height="21"/><rect x="823" y="244" width="1" height="18"/><rect x="827" y="254" width="1" height="10"/><rect x="835" y="257" width="1" height="16"/><rect x="839" y="265" width="1" height="15"/><rect x="851" y="238" width="1" height="12"/><rect x="858" y="238" width="1" height="5"/><rect x="898" y="96" width="1" height="14"/><rect x="906" y="100" width="1" height="13"/><rect x="910" y="102" width="1" height="25"/><rect x="914" y="121" width="1" height="14"/><rect x="929" y="92" width="1" height="28"/><rect x="937" y="99" width="1" height="17"/><rect x="945" y="26" width="1" height="66"/><rect x="949" y="82" width="1" height="18"/><rect x="984" y="39" width="1" height="37"/><rect x="992" y="59" width="1" height="20"/><rect x="996" y="52" width="1" height="19"/></g><g fill="#53b987"><rect x="3" y="406" width="3" height="5"/><rect x="7" y="402" width="3" height="5"/><rect x="15" y="400" width="3" height="8"/><rect x="27" y="402" width="3" height="6"/><rect x="31" y="398" width="3" height="5"/><rect x="39" y="394" width="3" height="7"/><rect x="43" y="379" width="3" height="16"/><rect x="47" y="361" width="3" height="19"/><rect x="51" y="360" width="3" height="2"/><rect x="55" y="361" width="3" height="1"/><rect x="62" y="367" width="3" height="4"/><rect x="70" y="370" width="3" height="2"/><rect x="82" y="359" width="3" height="21"/><rect x="86" y="354" width="3" height="6"/><rect x="94" y="353" width="3" height="6"/><rect x="106" y="348" width="3" height="16"/><rect x="110" y="332" width="3" height="17"/><rect x="121" y="364" width="3" height="2"/><rect x="125" y="357" width="3" height="7"/><rect x="137" y="357" width="3" height="27"/><rect x="141" y="353" width="3" height="5"/><rect x="145" y="340" width="3" height="14"/><rect x="149" y="338" width="3" height="3"/><rect x="153" y="321" width="3" height="18"/><rect x="161" y="304" width="3" height="21"/><rect x="169" y="286" width="3" height="29"/><rect x="173" y="282" width="3" height="5"/><rect x="180" y="285" width="3" height="4"/><rect x="184" y="261" width="3" height="25"/><rect x="188" y="252" width="3" height="10"/><rect x="192" y="248" width="3" height="5"/><rect x="196" y="247" width="3" height="2"/><rect x="208" y="260" width="3" height="18"/><rect x="216" y="278" width="3" height="24"/><rect x="228" y="260" width="3" height="44"/><rect x="235" y="277" width="3" height="12"/><rect x="243" y="281" width="3" height="2"/><rect x="255" y="300" width="3" height="8"/><rect x="259" y="297" width="3" height="4"/><rect x="275" y="327" width="3" height="2"/><rect x="283" y="325" width="3" height="8"/><rect x="295" y="330" width="3" height="7"/><rect x="298" y="328" width="3" height="3"/><rect x="302" y="305" width="3" height="24"/><rect x="306" y="281" width="3" height="25"/><rect x="314" y="259" width="3" height="25"/><rect x="334" y="321" width="3" height="11"/><rect x="338" y="321" width="3" height="1"/><rect x="358" y="353" width="3" height="1"/><rect x="361" y="349" width="3" height="5"/><rect x="365" y="349" width="3" height="1"/><rect x="369" y="348" width="3" height="2"/><rect x="377" y="364" width="3" height="2"/><rect x="385" y="357" width="3" height="10"/><rect x="389" y="347" width="3" height="11"/><rect x="393" y="347" width="3" height="1"/><rect x="397" y="345" width="3" height="3"/><rect x="401" y="310" width="3" height="36"/><rect x="405" y="308" width="3" height="3"/><rect x="409" y="303" width="3" height="6"/><rect x="413" y="290" width="3" height="14"/><rect x="421" y="303" width="3" height="12"/><rect x="428" y="298" width="3" height="7"/><rect x="432" y="298" width="3" height="1"/><rect x="452" y="356" width="3" height="12"/><rect x="456" y="351" width="3" height="6"/><rect x="460" y="346" width="3" height="6"/><rect x="464" y="320" width="3" height="27"/><rect x="480" y="329" width="3" height="7"/><rect x="491" y="335" width="3" height="14"/><rect x="495" y="328" width="3" height="8"/><rect x="499" y="320" width="3" height="9"/><rect x="507" y="324" width="3" height="2"/><rect x="511" y="316" width="3" height="9"/><rect x="527" y="339" width="3" height="1"/><rect x="531" y="331" width="3" height="9"/><rect x="539" y="335" width="3" height="11"/><rect x="543" y="327" width="3" height="9"/><rect x="550" y="329" width="3" height="5"/><rect x="554" y="325" width="3" height="5"/><rect x="570" y="335" width="3" height="8"/><rect x="582" y="330" width="3" height="17"/><rect x="590" y="333" width="3" height="1"/><rect x="594" y="331" width="3" height="4"/><rect x="598" y="315" width="3" height="17"/><rect x="602" y="309" width="3" height="7"/><rect x="613" y="310" width="3" height="13"/><rect x="617" y="298" width="3" height="13"/><rect x="621" y="294" width="3" height="5"/><rect x="629" y="294" width="3" height="6"/><rect x="637" y="293" width="3" height="6"/><rect x="641" y="287" width="3" height="7"/><rect x="645" y="264" width="3" height="24"/><rect x="649" y="252" width="3" height="13"/><rect x="661" y="261" width="3" height="3"/><rect x="665" y="258" width="3" height="4"/><rect x="669" y="253" width="3" height="6"/><rect x="672" y="239" width="3" height="15"/><rect x="676" y="234" width="3" height="6"/><rect x="680" y="220" width="3" height="15"/><rect x="684" y="217" width="3" height="4"/><rect x="688" y="210" width="3" height="8"/><rect x="692" y="208" width="3" height="3"/><rect x="716" y="257" width="3" height="3"/><rect x="720" y="241" width="3" height="17"/><rect x="728" y="240" width="3" height="8"/><rect x="732" y="239" width="3" height="2"/><rect x="735" y="235" width="3" height="5"/><rect x="739" y="228" width="3" height="8"/><rect x="747" y="230" width="3" height="20"/><rect x="759" y="223" width="3" height="13"/><rect x="771" y="242" width="3" height="9"/><rect x="775" y="234" width="3" height="9"/><rect x="779" y="230" width="3" height="5"/><rect x="783" y="227" width="3" height="4"/><rect x="787" y="225" width="3" height="3"/><rect x="798" y="251" width="3" height="6"/><rect x="802" y="244" width="3" height="8"/><rect x="818" y="251" width="3" height="16"/><rect x="830" y="258" width="3" height="6"/><rect x="842" y="252" width="3" height="21"/><rect x="846" y="241" width="3" height="12"/><rect x="854" y="240" width="3" height="8"/><rect x="861" y="205" width="3" height="38"/><rect x="865" y="181" width="3" height="25"/><rect x="869" y="162" width="3" height="20"/><rect x="873" y="143" width="3" height="20"/><rect x="877" y="135" width="3" height="8"/><rect x="881" y="132" width="3" height="4"/><rect x="885" y="108" width="3" height="25"/><rect x="889" y="104" width="3" height="5"/><rect x="893" y="98" width="3" height="7"/><rect x="901" y="104" width="3" height="6"/><rect x="917" y="118" width="3" height="7"/><rect x="920" y="108" width="3" height="11"/><rect x="924" y="95" width="3" height="14"/><rect x="932" y="107" width="3" height="11"/><rect x="940" y="76" width="3" height="32"/><rect x="952" y="85" width="3" height="9"/><rect x="956" y="80" width="3" height="6"/><rect x="960" y="69" width="3" height="12"/><rect x="964" y="62" width="3" height="8"/><rect x="968" y="53" width="3" height="10"/><rect x="972" y="51" width="3" height="3"/><rect x="976" y="46" width="3" height="6"/><rect x="980" y="42" width="3" height="5"/><rect x="987" y="71" width="3" height="1"/><rect x="999" y="67" width="3" height="4"/><rect x="1003" y="51" width="3" height="17"/><rect x="1007" y="37" width="3" height="15"/><rect x="1011" y="32" width="3" height="6"/></g><g fill="#eb4d5c"><rect x="11" y="402" width="3" height="6"/><rect x="19" y="400" width="3" height="8"/><rect x="23" y="407" width="3" height="1"/><rect x="35" y="398" width="3" height="3"/><rect x="58" y="360" width="3" height="11"/><rect x="66" y="367" width="3" height="5"/><rect x="74" y="370" width="3" height="5"/><rect x="78" y="374" width="3" height="6"/><rect x="90" y="354" width="3" height="5"/><rect x="98" y="362" width="3" height="2"/><rect x="102" y="363" width="3" height="1"/><rect x="113" y="332" width="3" height="27"/><rect x="117" y="358" width="3" height="8"/><rect x="129" y="357" width="3" height="15"/><rect x="133" y="371" width="3" height="13"/><rect x="157" y="321" width="3" height="4"/><rect x="165" y="304" width="3" height="11"/><rect x="176" y="282" width="3" height="7"/><rect x="200" y="247" width="3" height="27"/><rect x="204" y="273" width="3" height="5"/><rect x="212" y="260" width="3" height="21"/><rect x="220" y="278" width="3" height="9"/><rect x="224" y="286" width="3" height="18"/><rect x="232" y="260" width="3" height="29"/><rect x="239" y="276" width="3" height="7"/><rect x="247" y="281" width="3" height="26"/><rect x="251" y="306" width="3" height="2"/><rect x="263" y="297" width="3" height="6"/><rect x="267" y="302" width="3" height="3"/><rect x="271" y="304" width="3" height="25"/><rect x="279" y="327" width="3" height="6"/><rect x="287" y="325" width="3" height="6"/><rect x="291" y="330" width="3" height="7"/><rect x="310" y="281" width="3" height="3"/><rect x="318" y="259" width="3" height="20"/><rect x="322" y="278" width="3" height="30"/><rect x="326" y="308" width="3" height="14"/><rect x="330" y="321" width="3" height="8"/><rect x="342" y="321" width="3" height="15"/><rect x="346" y="335" width="3" height="8"/><rect x="350" y="342" width="3" height="5"/><rect x="354" y="346" width="3" height="8"/><rect x="373" y="348" width="3" height="18"/><rect x="381" y="364" width="3" height="3"/><rect x="417" y="290" width="3" height="25"/><rect x="424" y="303" width="3" height="2"/><rect x="436" y="298" width="3" height="6"/><rect x="440" y="303" width="3" height="57"/><rect x="444" y="359" width="3" height="4"/><rect x="448" y="362" width="3" height="3"/><rect x="468" y="320" width="3" height="4"/><rect x="472" y="323" width="3" height="7"/><rect x="476" y="329" width="3" height="7"/><rect x="483" y="329" width="3" height="7"/><rect x="487" y="335" width="3" height="14"/><rect x="503" y="320" width="3" height="6"/><rect x="515" y="316" width="3" height="7"/><rect x="519" y="322" width="3" height="12"/><rect x="523" y="333" width="3" height="7"/><rect x="535" y="331" width="3" height="15"/><rect x="546" y="327" width="3" height="7"/><rect x="558" y="325" width="3" height="4"/><rect x="562" y="328" width="3" height="2"/><rect x="566" y="329" width="3" height="14"/><rect x="574" y="335" width="3" height="5"/><rect x="578" y="339" width="3" height="8"/><rect x="586" y="330" width="3" height="4"/><rect x="606" y="309" width="3" height="13"/><rect x="609" y="321" width="3" height="2"/><rect x="625" y="294" width="3" height="6"/><rect x="633" y="294" width="3" height="5"/><rect x="653" y="252" width="3" height="2"/><rect x="657" y="253" width="3" height="11"/><rect x="696" y="208" width="3" height="12"/><rect x="700" y="219" width="3" height="14"/><rect x="704" y="232" width="3" height="19"/><rect x="708" y="251" width="3" height="9"/><rect x="712" y="259" width="3" height="1"/><rect x="724" y="241" width="3" height="7"/><rect x="743" y="228" width="3" height="22"/><rect x="751" y="230" width="3" height="2"/><rect x="755" y="231" width="3" height="1"/><rect x="763" y="223" width="3" height="13"/><rect x="767" y="235" width="3" height="16"/><rect x="791" y="225" width="3" height="25"/><rect x="794" y="249" width="3" height="8"/><rect x="806" y="244" width="3" height="3"/><rect x="810" y="246" width="3" height="10"/><rect x="814" y="255" width="3" height="12"/><rect x="822" y="251" width="3" height="6"/><rect x="826" y="256" width="3" height="8"/><rect x="834" y="258" width="3" height="8"/><rect x="838" y="265" width="3" height="8"/><rect x="850" y="241" width="3" height="7"/><rect x="857" y="240" width="3" height="3"/><rect x="897" y="98" width="3" height="12"/><rect x="905" y="104" width="3" height="7"/><rect x="909" y="110" width="3" height="13"/><rect x="913" y="122" width="3" height="3"/><rect x="928" y="95" width="3" height="23"/><rect x="936" y="107" width="3" height="1"/><rect x="944" y="76" width="3" height="14"/><rect x="948" y="89" width="3" height="5"/><rect x="983" y="42" width="3" height="30"/><rect x="991" y="71" width="3" height="7"/><rect x="995" y="55" width="3" height="16"/></g></g>
<path d="M4.5 557.5 L8.5 550.2 L12.5 547.7 L16.5 541.4 L20.5 545.5 L24.5 546.6 L28.5 551.7 L32.5 546.2 L36.5 541.4 L40.5 536.0 L44.5 527.6 L48.5 512.9 L52.5 501.0 L56.5 500.4 L59.5 511.8 L63.5 521.1 L67.5 530.6 L71.5 530.2 L75.5 537.1 L79.5 544.1 L83.5 534.9 L87.5 519.5 L91.5 509.5 L95.5 516.4 L99.5 542.8 L103.5 559.6 L107.5 556.8 L111.5 531.4 L114.5 532.6 L118.5 561.4 L122.5 593.3 L126.5 591.8 L130.5 597.7 L134.5 613.9 L138.5 603.6 L142.5 576.7 L146.5 533.2 L150.5 521.9 L154.5 514.1 L158.5 516.2 L162.5 513.9 L166.5 514.9 L170.5 505.3 L174.5 502.7 L177.5 497.8 L181.5 500.4 L185.5 504.9 L189.5 503.6 L193.5 503.3 L197.5 500.6 L201.5 515.7 L205.5 534.5 L209.5 543.2 L213.5 549.5 L217.5 556.3 L221.5 579.1 L225.5 606.4 L229.5 594.8 L233.5 598.1 L236.5 575.3 L240.5 592.2 L244.5 586.2 L248.5 607.0 L252.5 612.5 L256.5 614.4 L260.5 596.3 L264.5 592.9 L268.5 595.7 L272.5 615.6 L276.5 627.3 L280.5 641.0 L284.5 634.4 L288.5 633.3 L292.5 634.4 L296.5 634.8 L299.5 620.5 L303.5 581.5 L307.5 539.5 L311.5 513.3 L315.5 501.8 L319.5 510.2 L323.5 531.7 L327.5 564.8 L331.5 591.3 L335.5 597.8 L339.5 597.4 L343.5 600.7 L347.5 612.1 L351.5 625.5 L355.5 638.1 L359.5 646.4 L362.5 650.5 L366.5 647.7 L370.5 640.0 L374.5 642.9 L378.5 641.1 L382.5 646.9 L386.5 636.5 L390.5 622.5 L394.5 606.4 L398.5 589.1 L402.5 558.6 L406.5 526.1 L410.5 506.0 L414.5 503.7 L418.5 519.3 L422.5 524.1 L425.5 533.5 L429.5 522.7 L433.5 520.0 L437.5 520.2 L441.5 563.1 L445.5 605.3 L449.5 643.5 L453.5 637.6 L457.5 628.8 L461.5 616.7 L465.5 593.4 L469.5 574.1 L473.5 560.5 L477.5 567.7 L481.5 569.7 L484.5 573.8 L488.5 583.3 L492.5 584.2 L496.5 571.2 L500.5 541.4 L504.5 531.2 L508.5 531.9 L512.5 530.6 L516.5 532.0 L520.5 544.4 L524.5 573.1 L528.5 591.7 L532.5 588.5 L536.5 595.5 L540.5 591.0 L544.5 586.5 L547.5 573.3 L551.5 566.6 L555.5 564.5 L559.5 558.6 L563.5 559.8 L567.5 581.0 L571.5 582.2 L575.5 586.8 L579.5 587.9 L583.5 576.3 L587.5 566.7 L591.5 543.8 L595.5 550.4 L599.5 534.3 L603.5 522.1 L607.5 524.7 L610.5 544.6 L614.5 545.6 L618.5 522.1 L622.5 502.2 L626.5 504.3 L630.5 508.8 L634.5 513.3 L638.5 507.4 L642.5 503.4 L646.5 497.6 L650.5 494.3 L654.5 501.4 L658.5 512.9 L662.5 524.6 L666.5 527.9 L670.5 522.0 L673.5 516.4 L677.5 509.0 L681.5 505.3 L685.5 501.2 L689.5 498.6 L693.5 493.6 L697.5 500.9 L701.5 524.4 L705.5 566.0 L709.5 605.2 L713.5 630.3 L717.5 635.4 L721.5 618.5 L725.5 608.1 L729.5 592.9 L733.5 591.1 L736.5 579.6 L740.5 569.1 L744.5 578.9 L748.5 574.5 L752.5 570.9 L756.5 542.8 L760.5 524.4 L764.5 529.3 L768.5 560.6 L772.5 588.6 L776.5 590.6 L780.5 564.6 L784.5 544.7 L788.5 529.6 L792.5 556.6 L795.5 597.6 L799.5 630.3 L803.5 618.3 L807.5 601.2 L811.5 607.4 L815.5 628.4 L819.5 623.9 L823.5 613.6 L827.5 605.0 L831.5 611.5 L835.5 620.2 L839.5 624.6 L843.5 610.8 L847.5 572.7 L851.5 539.0 L855.5 523.8 L858.5 527.4 L862.5 514.3 L866.5 513.4 L870.5 503.0 L874.5 503.1 L878.5 495.5 L882.5 495.0 L886.5 494.4 L890.5 495.4 L894.5 494.7 L898.5 497.7 L902.5 499.0 L906.5 504.0 L910.5 509.2 L914.5 517.0 L918.5 523.1 L921.5 521.3 L925.5 517.8 L929.5 537.9 L933.5 552.0 L937.5 568.5 L941.5 536.9 L945.5 546.8 L949.5 557.7 L953.5 587.6 L957.5 582.5 L961.5 569.5 L965.5 557.5 L969.5 544.0 L973.5 535.7 L977.5 528.2 L981.5 523.2 L984.5 535.2 L988.5 552.7 L992.5 579.0 L996.5 587.2 L1000.5 590.1 L1004.5 573.8 L1008.5 548.4 L1012.5 523.0" fill="none" stroke="#ff6a1f" stroke-width="1.05" stroke-linejoin="round"/>
<path d="M4.5 550.5 L8.5 538.6 L12.5 554.0 L16.5 531.7 L20.5 550.7 L24.5 557.5 L28.5 547.0 L32.5 534.2 L36.5 542.9 L40.5 531.0 L44.5 508.8 L48.5 498.8 L52.5 495.5 L56.5 507.0 L59.5 532.9 L63.5 523.3 L67.5 535.6 L71.5 531.7 L75.5 544.0 L79.5 556.7 L83.5 504.0 L87.5 498.0 L91.5 526.5 L95.5 524.6 L99.5 577.2 L103.5 577.2 L107.5 516.0 L111.5 501.1 L114.5 580.6 L118.5 602.5 L122.5 596.9 L126.5 575.9 L130.5 620.3 L134.5 645.5 L138.5 544.9 L142.5 539.7 L146.5 515.1 L150.5 511.0 L154.5 516.2 L158.5 521.4 L162.5 504.2 L166.5 519.1 L170.5 492.5 L174.5 496.4 L177.5 504.6 L181.5 500.2 L185.5 509.8 L189.5 500.8 L193.5 499.2 L197.5 501.7 L201.5 546.2 L205.5 555.5 L209.5 527.8 L213.5 565.2 L217.5 575.7 L221.5 596.2 L225.5 647.2 L229.5 541.0 L233.5 606.1 L236.5 578.9 L240.5 591.6 L244.5 588.0 L248.5 641.5 L252.5 608.1 L256.5 593.5 L260.5 587.1 L264.5 598.2 L268.5 601.7 L272.5 646.8 L276.5 633.3 L280.5 642.8 L284.5 627.1 L288.5 630.2 L292.5 646.0 L296.5 628.1 L299.5 587.5 L303.5 529.0 L307.5 501.9 L311.5 508.9 L315.5 494.7 L319.5 527.0 L323.5 573.4 L327.5 594.1 L331.5 606.3 L335.5 592.9 L339.5 592.9 L343.5 616.2 L347.5 627.1 L351.5 633.2 L355.5 653.9 L359.5 652.0 L362.5 645.6 L366.5 645.6 L370.5 628.9 L374.5 654.2 L378.5 640.2 L382.5 646.3 L386.5 623.0 L390.5 598.1 L394.5 598.1 L398.5 570.9 L402.5 506.7 L406.5 500.9 L410.5 510.4 L414.5 499.7 L418.5 547.7 L422.5 524.9 L425.5 528.0 L429.5 515.2 L433.5 516.7 L437.5 528.6 L441.5 644.1 L445.5 643.2 L449.5 643.2 L453.5 626.4 L457.5 616.6 L461.5 607.0 L465.5 556.7 L469.5 558.6 L473.5 566.1 L477.5 578.5 L481.5 564.4 L484.5 578.5 L488.5 607.1 L492.5 567.0 L496.5 539.5 L500.5 517.5 L504.5 536.6 L508.5 541.7 L512.5 513.4 L516.5 541.0 L520.5 578.9 L524.5 599.5 L528.5 596.8 L532.5 569.2 L536.5 620.6 L540.5 583.2 L544.5 555.6 L547.5 581.0 L551.5 563.3 L555.5 549.4 L559.5 563.3 L563.5 566.9 L567.5 612.8 L571.5 567.0 L575.5 580.4 L579.5 616.2 L583.5 532.4 L587.5 551.4 L591.5 547.6 L595.5 552.1 L599.5 503.3 L603.5 510.9 L607.5 559.9 L610.5 562.9 L614.5 513.9 L618.5 489.6 L622.5 503.0 L626.5 520.3 L630.5 503.0 L634.5 516.7 L638.5 502.3 L642.5 491.1 L646.5 499.4 L650.5 492.4 L654.5 512.4 L658.5 533.8 L662.5 527.7 L666.5 522.2 L670.5 516.0 L673.5 511.2 L677.5 499.8 L681.5 504.8 L685.5 499.1 L689.5 491.8 L693.5 490.0 L697.5 520.9 L701.5 562.4 L705.5 614.8 L709.5 638.5 L713.5 637.7 L717.5 630.2 L721.5 587.7 L725.5 606.4 L729.5 584.8 L733.5 582.2 L736.5 571.8 L740.5 553.1 L744.5 611.8 L748.5 558.5 L752.5 542.5 L756.5 527.3 L760.5 503.3 L764.5 557.4 L768.5 621.1 L772.5 587.4 L776.5 563.4 L780.5 543.1 L784.5 527.5 L788.5 518.1 L792.5 624.2 L795.5 650.5 L799.5 616.2 L803.5 588.1 L807.5 599.3 L811.5 634.8 L815.5 651.1 L819.5 585.8 L823.5 603.9 L827.5 625.3 L831.5 605.3 L835.5 629.9 L839.5 638.7 L843.5 564.0 L847.5 515.6 L851.5 537.4 L855.5 518.3 L858.5 526.5 L862.5 498.2 L866.5 515.7 L870.5 495.2 L874.5 498.5 L878.5 492.7 L882.5 493.8 L886.5 496.6 L890.5 495.7 L894.5 491.9 L898.5 505.5 L902.5 499.5 L906.5 507.0 L910.5 521.0 L914.5 523.1 L918.5 525.2 L921.5 515.6 L925.5 512.5 L929.5 585.5 L933.5 558.1 L937.5 561.9 L941.5 490.7 L945.5 587.9 L949.5 594.4 L953.5 580.6 L957.5 572.5 L961.5 555.5 L965.5 544.5 L969.5 532.0 L973.5 530.7 L977.5 522.0 L981.5 516.9 L984.5 566.7 L988.5 574.4 L992.5 595.8 L996.5 591.6 L1000.5 582.8 L1004.5 547.0 L1008.5 515.5 L1012.5 506.5" fill="none" stroke="#1f96f3" stroke-width="1.05" stroke-linejoin="round"/>
<line x1="2" y1="31.5" x2="1171" y2="31.5" stroke="#53b987" stroke-width="1" stroke-dasharray="2 1" shape-rendering="crispEdges"/>
<g shape-rendering="crispEdges">
<rect x="0" y="0" width="1228" height="1" fill="#d6d9df"/><rect x="0" y="1" width="1228" height="1" fill="#eceef1"/>
<rect x="0" y="0" width="1" height="706" fill="#e2e4e9"/><rect x="1" y="0" width="1" height="706" fill="#d3d6dc"/>
<rect x="1226" y="0" width="1" height="706" fill="#f3f4f6"/><rect x="1227" y="0" width="1" height="706" fill="#dcdee2"/>
<rect x="0" y="684" width="1228" height="22" fill="#e4e5e7"/>
<rect x="1171" y="2" width="1" height="664" fill="#555"/>
<rect x="2" y="478" width="1224" height="1" fill="#555"/>
<rect x="2" y="665" width="1170" height="1" fill="#555"/>
<rect x="1172" y="103" width="3" height="1" fill="#555"/>
<rect x="1172" y="157" width="3" height="1" fill="#555"/>
<rect x="1172" y="211" width="3" height="1" fill="#555"/>
<rect x="1172" y="265" width="3" height="1" fill="#555"/>
<rect x="1172" y="319" width="3" height="1" fill="#555"/>
<rect x="1172" y="373" width="3" height="1" fill="#555"/>
<rect x="1172" y="427" width="3" height="1" fill="#555"/>
<rect x="1172" y="488" width="3" height="1" fill="#555"/>
<rect x="1172" y="522" width="3" height="1" fill="#555"/>
<rect x="1172" y="556" width="3" height="1" fill="#555"/>
<rect x="1172" y="590" width="3" height="1" fill="#555"/>
<rect x="1172" y="624" width="3" height="1" fill="#555"/>
<rect x="1172" y="658" width="3" height="1" fill="#555"/>
<rect x="104" y="666" width="1" height="3" fill="#555"/>
<rect x="198" y="666" width="1" height="3" fill="#555"/>
<rect x="340" y="666" width="1" height="3" fill="#555"/>
<rect x="458" y="666" width="1" height="3" fill="#555"/>
<rect x="552" y="666" width="1" height="3" fill="#555"/>
<rect x="663" y="666" width="1" height="3" fill="#555"/>
<rect x="765" y="666" width="1" height="3" fill="#555"/>
<rect x="883" y="666" width="1" height="3" fill="#555"/>
<rect x="1001" y="666" width="1" height="3" fill="#555"/>
<rect x="1119" y="666" width="1" height="3" fill="#555"/>
</g>
<g shape-rendering="crispEdges"><rect x="1171" y="24" width="50" height="16" fill="#53b987"/><rect x="1171" y="41" width="50" height="16" fill="#53b987"/><rect x="1172" y="31" width="3" height="1" fill="#fff"/><rect x="1171" y="40" width="50" height="1" fill="#fff"/></g>
<g fill="none" stroke="#ff9a4d" stroke-width="1.3"><circle cx="1157" cy="18.8" r="7.2"/><line x1="1157" y1="14.3" x2="1157" y2="20.3" stroke-linecap="round"/><circle cx="1157" cy="23" r="0.35" /></g>
<g fill="none" stroke="#6a6a6a" stroke-width="1"><rect x="7.5" y="13.5" width="12" height="12" rx="1.5"/><line x1="9.5" y1="19.5" x2="17.5" y2="19.5" shape-rendering="crispEdges"/></g>
<g font-family="Liberation Sans"><text x="25.5" y="26.6" font-size="15px" fill="#3a3a3a" textLength="279.0" lengthAdjust="spacingAndGlyphs" stroke="#3a3a3a" stroke-width="0.3">British Pound/U.S. Dollar, 240, FXCM</text><text x="365.3" y="26.5" font-size="14.8px" fill="#444" textLength="9.5" lengthAdjust="spacingAndGlyphs">O</text><text x="377.4" y="26.5" font-size="14.8px" fill="#53b987" textLength="53.1" lengthAdjust="spacingAndGlyphs">1.39226</text><text x="441.8" y="26.5" font-size="14.8px" fill="#444" textLength="8.4" lengthAdjust="spacingAndGlyphs">H</text><text x="453.0" y="26.5" font-size="14.8px" fill="#53b987" textLength="53.8" lengthAdjust="spacingAndGlyphs">1.39338</text><text x="517.8" y="26.5" font-size="14.8px" fill="#444" textLength="5.4" lengthAdjust="spacingAndGlyphs">L</text><text x="527.3" y="26.5" font-size="14.8px" fill="#53b987" textLength="53.3" lengthAdjust="spacingAndGlyphs">1.39145</text><text x="591.5" y="26.5" font-size="14.8px" fill="#444" textLength="8.1" lengthAdjust="spacingAndGlyphs">C</text><text x="602.0" y="26.5" font-size="14.8px" fill="#53b987" textLength="53.7" lengthAdjust="spacingAndGlyphs">1.39332</text><text x="7.4" y="45.8" font-size="12px" fill="#cfcfcf" textLength="38.8" lengthAdjust="spacingAndGlyphs">Vol (20)</text><text x="7.4" y="65.6" font-size="12px" fill="#4a4a4a" textLength="87.8" lengthAdjust="spacingAndGlyphs">BB (20, close, 2)</text><text x="190.7" y="65.6" font-size="12px" fill="#8a1f2b" textLength="34.2" lengthAdjust="spacingAndGlyphs">1.3868</text><text x="234.8" y="65.6" font-size="12px" fill="#0c8484" textLength="34.5" lengthAdjust="spacingAndGlyphs">1.3940</text><text x="278.8" y="65.6" font-size="12px" fill="#0c8484" textLength="34.5" lengthAdjust="spacingAndGlyphs">1.3797</text><text x="7.2" y="499.2" font-size="12px" fill="#4a4a4a" textLength="83.3" lengthAdjust="spacingAndGlyphs">Stoch (14, 3, 1)</text><text x="186.8" y="499.4" font-size="12px" fill="#2196f3" textLength="38.6" lengthAdjust="spacingAndGlyphs">89.4372</text><text x="235.9" y="499.4" font-size="12px" fill="#ff6d1f" textLength="39.9" lengthAdjust="spacingAndGlyphs">79.7888</text></g>
<path d="M308.2 19.4 L315.8 19.4 L312.0 23.2 Z" fill="#c4c4c4"/>
<path d="M51.3 39.2 L58.7 39.2 L55.0 42.9 Z" fill="#cfcfcf"/>
<path d="M99.8 60.0 L107.2 60.0 L103.5 63.7 Z" fill="#c4c4c4"/>
<path d="M95.2 493.0 L102.7 493.0 L99.0 496.7 Z" fill="#c4c4c4"/>
<g opacity="0.90"><rect x="326" y="15" width="14" height="13" fill="#d6d6d6" shape-rendering="crispEdges"/><path d="M327.7 21.5 C329.8 15.9 336.2 15.9 338.3 21.5 C336.2 27.1 329.8 27.1 327.7 21.5 Z" fill="#fff"/><circle cx="333.0" cy="21.5" r="2.6" fill="#d6d6d6"/><circle cx="333.0" cy="21.5" r="1.25" fill="#fff"/></g>
<g opacity="0.90"><rect x="343" y="15" width="14" height="13" fill="#d6d6d6" shape-rendering="crispEdges"/><path d="M349.17 17.79 L349.27 16.35 L350.73 16.35 L350.83 17.79 L352.04 18.29 L353.12 17.34 L354.16 18.38 L353.21 19.46 L353.71 20.67 L355.15 20.77 L355.15 22.23 L353.71 22.33 L353.21 23.54 L354.16 24.62 L353.12 25.66 L352.04 24.71 L350.83 25.21 L350.73 26.65 L349.27 26.65 L349.17 25.21 L347.96 24.71 L346.88 25.66 L345.84 24.62 L346.79 23.54 L346.29 22.33 L344.85 22.23 L344.85 20.77 L346.29 20.67 L346.79 19.46 L345.84 18.38 L346.88 17.34 L347.96 18.29Z" fill="#fff" stroke="#fff" stroke-width="0.5" stroke-linejoin="round"/><circle cx="350.0" cy="21.5" r="1.8" fill="#d6d6d6"/></g>
<g opacity="1.00"><rect x="69" y="35" width="14" height="14" fill="#31aee3" shape-rendering="crispEdges"/><path d="M70.7 42.0 C72.8 36.4 79.2 36.4 81.3 42.0 C79.2 47.6 72.8 47.6 70.7 42.0 Z" fill="#fff"/><circle cx="76.0" cy="42.0" r="2.6" fill="#31aee3"/><circle cx="76.0" cy="42.0" r="1.25" fill="#fff"/></g>
<g opacity="0.90"><rect x="86" y="35" width="14" height="14" fill="#d6d6d6" shape-rendering="crispEdges"/><path d="M92.17 38.29 L92.27 36.85 L93.73 36.85 L93.83 38.29 L95.04 38.79 L96.12 37.84 L97.16 38.88 L96.21 39.96 L96.71 41.17 L98.15 41.27 L98.15 42.73 L96.71 42.83 L96.21 44.04 L97.16 45.12 L96.12 46.16 L95.04 45.21 L93.83 45.71 L93.73 47.15 L92.27 47.15 L92.17 45.71 L90.96 45.21 L89.88 46.16 L88.84 45.12 L89.79 44.04 L89.29 42.83 L87.85 42.73 L87.85 41.27 L89.29 41.17 L89.79 39.96 L88.84 38.88 L89.88 37.84 L90.96 38.79Z" fill="#fff" stroke="#fff" stroke-width="0.5" stroke-linejoin="round"/><circle cx="93.0" cy="42.0" r="1.8" fill="#d6d6d6"/></g>
<g opacity="0.90"><rect x="103" y="35" width="14" height="14" fill="#d6d6d6" shape-rendering="crispEdges"/><path d="M105.8 42.0 h8.4 M110.0 37.8 v8.4" stroke="#fff" stroke-width="2.2" fill="none"/></g>
<g opacity="0.90"><rect x="120" y="35" width="14" height="14" fill="#d6d6d6" shape-rendering="crispEdges"/><path d="M122.7 37.7 l8.6 8.6 M131.3 37.7 l-8.6 8.6" stroke="#fff" stroke-width="1.9" fill="none"/></g>
<g opacity="0.90"><rect x="118" y="56" width="14" height="14" fill="#d6d6d6" shape-rendering="crispEdges"/><path d="M119.7 63.0 C121.8 57.4 128.2 57.4 130.3 63.0 C128.2 68.6 121.8 68.6 119.7 63.0 Z" fill="#fff"/><circle cx="125.0" cy="63.0" r="2.6" fill="#d6d6d6"/><circle cx="125.0" cy="63.0" r="1.25" fill="#fff"/></g>
<g opacity="0.90"><rect x="135" y="56" width="14" height="14" fill="#d6d6d6" shape-rendering="crispEdges"/><path d="M141.17 59.29 L141.27 57.85 L142.73 57.85 L142.83 59.29 L144.04 59.79 L145.12 58.84 L146.16 59.88 L145.21 60.96 L145.71 62.17 L147.15 62.27 L147.15 63.73 L145.71 63.83 L145.21 65.04 L146.16 66.12 L145.12 67.16 L144.04 66.21 L142.83 66.71 L142.73 68.15 L141.27 68.15 L141.17 66.71 L139.96 66.21 L138.88 67.16 L137.84 66.12 L138.79 65.04 L138.29 63.83 L136.85 63.73 L136.85 62.27 L138.29 62.17 L138.79 60.96 L137.84 59.88 L138.88 58.84 L139.96 59.79Z" fill="#fff" stroke="#fff" stroke-width="0.5" stroke-linejoin="round"/><circle cx="142.0" cy="63.0" r="1.8" fill="#d6d6d6"/></g>
<g opacity="0.90"><rect x="152" y="56" width="14" height="14" fill="#d6d6d6" shape-rendering="crispEdges"/><path d="M154.8 63.0 h8.4 M159.0 58.8 v8.4" stroke="#fff" stroke-width="2.2" fill="none"/></g>
<g opacity="0.90"><rect x="169" y="56" width="14" height="14" fill="#d6d6d6" shape-rendering="crispEdges"/><path d="M171.7 58.7 l8.6 8.6 M180.3 58.7 l-8.6 8.6" stroke="#fff" stroke-width="1.9" fill="none"/></g>
<g opacity="0.80"><rect x="113" y="488" width="14" height="14" fill="#d6d6d6" shape-rendering="crispEdges"/><path d="M114.7 495.0 C116.8 489.4 123.2 489.4 125.3 495.0 C123.2 500.6 116.8 500.6 114.7 495.0 Z" fill="#fff"/><circle cx="120.0" cy="495.0" r="2.6" fill="#d6d6d6"/><circle cx="120.0" cy="495.0" r="1.25" fill="#fff"/></g>
<g opacity="0.80"><rect x="130" y="488" width="14" height="14" fill="#d6d6d6" shape-rendering="crispEdges"/><path d="M136.17 491.29 L136.27 489.85 L137.73 489.85 L137.83 491.29 L139.04 491.79 L140.12 490.84 L141.16 491.88 L140.21 492.96 L140.71 494.17 L142.15 494.27 L142.15 495.73 L140.71 495.83 L140.21 497.04 L141.16 498.12 L140.12 499.16 L139.04 498.21 L137.83 498.71 L137.73 500.15 L136.27 500.15 L136.17 498.71 L134.96 498.21 L133.88 499.16 L132.84 498.12 L133.79 497.04 L133.29 495.83 L131.85 495.73 L131.85 494.27 L133.29 494.17 L133.79 492.96 L132.84 491.88 L133.88 490.84 L134.96 491.79Z" fill="#fff" stroke="#fff" stroke-width="0.5" stroke-linejoin="round"/><circle cx="137.0" cy="495.0" r="1.8" fill="#d6d6d6"/></g>
<g opacity="0.80"><rect x="147" y="488" width="14" height="14" fill="#d6d6d6" shape-rendering="crispEdges"/><path d="M149.8 495.0 h8.4 M154.0 490.8 v8.4" stroke="#fff" stroke-width="2.2" fill="none"/></g>
<g opacity="0.80"><rect x="164" y="488" width="14" height="14" fill="#d6d6d6" shape-rendering="crispEdges"/><path d="M166.7 490.7 l8.6 8.6 M175.3 490.7 l-8.6 8.6" stroke="#fff" stroke-width="1.9" fill="none"/></g>
<g font-family="Liberation Sans"><text x="15.8" y="698.8" font-size="11.3px" fill="#8c8c8c" textLength="11.8" lengthAdjust="spacingAndGlyphs">1d</text><text x="54.0" y="698.8" font-size="11.3px" fill="#8c8c8c" textLength="12.8" lengthAdjust="spacingAndGlyphs">5d</text><text x="93.3" y="698.8" font-size="11.3px" fill="#8c8c8c" textLength="14.5" lengthAdjust="spacingAndGlyphs">1m</text><text x="134.0" y="698.8" font-size="11.3px" fill="#8c8c8c" textLength="14.7" lengthAdjust="spacingAndGlyphs">3m</text><text x="175.0" y="698.8" font-size="11.3px" fill="#8c8c8c" textLength="14.6" lengthAdjust="spacingAndGlyphs">6m</text><text x="216.0" y="698.8" font-size="11.3px" fill="#8c8c8c" textLength="21.5" lengthAdjust="spacingAndGlyphs">YTD</text><text x="264.5" y="698.8" font-size="11.3px" fill="#8c8c8c" textLength="12.1" lengthAdjust="spacingAndGlyphs">1y</text><text x="303.0" y="698.8" font-size="11.3px" fill="#8c8c8c" textLength="12.7" lengthAdjust="spacingAndGlyphs">5y</text><text x="342.3" y="698.8" font-size="11.3px" fill="#8c8c8c" textLength="14.0" lengthAdjust="spacingAndGlyphs">All</text><text x="381.7" y="698.8" font-size="11.3px" fill="#8c8c8c" textLength="39.5" lengthAdjust="spacingAndGlyphs">Go to...</text><text x="928.6" y="698.8" font-size="11.3px" fill="#8c8c8c" textLength="43.4" lengthAdjust="spacingAndGlyphs" stroke="#8c8c8c" stroke-width="0.35">15:21:09</text><text x="976.5" y="698.8" font-size="11.3px" fill="#8c8c8c" textLength="27.1" lengthAdjust="spacingAndGlyphs">(UTC)</text><text x="1030.0" y="698.8" font-size="11.3px" fill="#8c8c8c" textLength="17.7" lengthAdjust="spacingAndGlyphs">ext</text><text x="1073.6" y="698.8" font-size="11.3px" fill="#8c8c8c" textLength="8.8" lengthAdjust="spacingAndGlyphs">%</text><text x="1108.3" y="698.8" font-size="11.3px" fill="#8c8c8c" textLength="15.5" lengthAdjust="spacingAndGlyphs">log</text><text x="1150.3" y="698.8" font-size="11.3px" fill="#3bb3e4" textLength="24.0" lengthAdjust="spacingAndGlyphs">auto</text></g>
<g fill="#b4b7bb" shape-rendering="crispEdges"><rect x="40" y="688" width="1" height="14"/><rect x="79" y="688" width="1" height="14"/><rect x="120" y="688" width="1" height="14"/><rect x="161" y="688" width="1" height="14"/><rect x="202" y="688" width="1" height="14"/><rect x="250" y="688" width="1" height="14"/><rect x="289" y="688" width="1" height="14"/><rect x="328" y="688" width="1" height="14"/><rect x="368" y="688" width="1" height="14"/><rect x="1016" y="688" width="1" height="14"/><rect x="1060" y="688" width="1" height="14"/><rect x="1094" y="688" width="1" height="14"/><rect x="1136" y="688" width="1" height="14"/><rect x="1186" y="688" width="1" height="14"/></g>
<path d="M1205.97 690.82 L1206.31 689.24 L1207.69 689.24 L1208.03 690.82 L1209.30 691.35 L1210.65 690.47 L1211.63 691.45 L1210.75 692.80 L1211.28 694.07 L1212.86 694.41 L1212.86 695.79 L1211.28 696.13 L1210.75 697.40 L1211.63 698.75 L1210.65 699.73 L1209.30 698.85 L1208.03 699.38 L1207.69 700.96 L1206.31 700.96 L1205.97 699.38 L1204.70 698.85 L1203.35 699.73 L1202.37 698.75 L1203.25 697.40 L1202.72 696.13 L1201.14 695.79 L1201.14 694.41 L1202.72 694.07 L1203.25 692.80 L1202.37 691.45 L1203.35 690.47 L1204.70 691.35Z" fill="#8e8e8e" stroke="#8e8e8e" stroke-width="0.4" stroke-linejoin="round"/><circle cx="1207" cy="695.1" r="3.05" fill="#e4e5e7"/>
</svg>
<svg width="1228" height="706" viewBox="0 0 1228 706" style="position:absolute;left:0;top:0;will-change:transform">
<g font-family="Liberation Sans" font-size="11px" fill="#3c3c3c"><text x="1178" y="108">1.38000</text><text x="1178" y="162">1.37000</text><text x="1178" y="216">1.36000</text><text x="1178" y="270">1.35000</text><text x="1178" y="324">1.34000</text><text x="1178" y="378">1.33000</text><text x="1178" y="432">1.32000</text><text x="1178" y="493">100.0000</text><text x="1178" y="527">80.0000</text><text x="1178" y="561">60.0000</text><text x="1178" y="595">40.0000</text><text x="1178" y="629">20.0000</text><text x="1178" y="663">0.0000</text></g>
<g font-family="Liberation Sans" font-size="11px" fill="#3c3c3c"><text x="104.5" y="680" text-anchor="middle">27</text><text x="198.5" y="680" text-anchor="middle" font-weight="bold">Dec</text><text x="340.5" y="680" text-anchor="middle">11</text><text x="458.5" y="680" text-anchor="middle">18</text><text x="552.5" y="680" text-anchor="middle">22</text><text x="663.5" y="680" text-anchor="middle" font-weight="bold">2018</text><text x="765.5" y="680" text-anchor="middle">8</text><text x="883.5" y="680" text-anchor="middle">15</text><text x="1001.5" y="680" text-anchor="middle">22</text><text x="1119.5" y="680" text-anchor="middle">29</text></g>
<g font-family="Liberation Sans" font-size="11px" fill="#fff"><text x="1178.2" y="36">1.39332</text><text x="1175.2" y="53">02:38:51</text></g>
</svg>
</body></html>
